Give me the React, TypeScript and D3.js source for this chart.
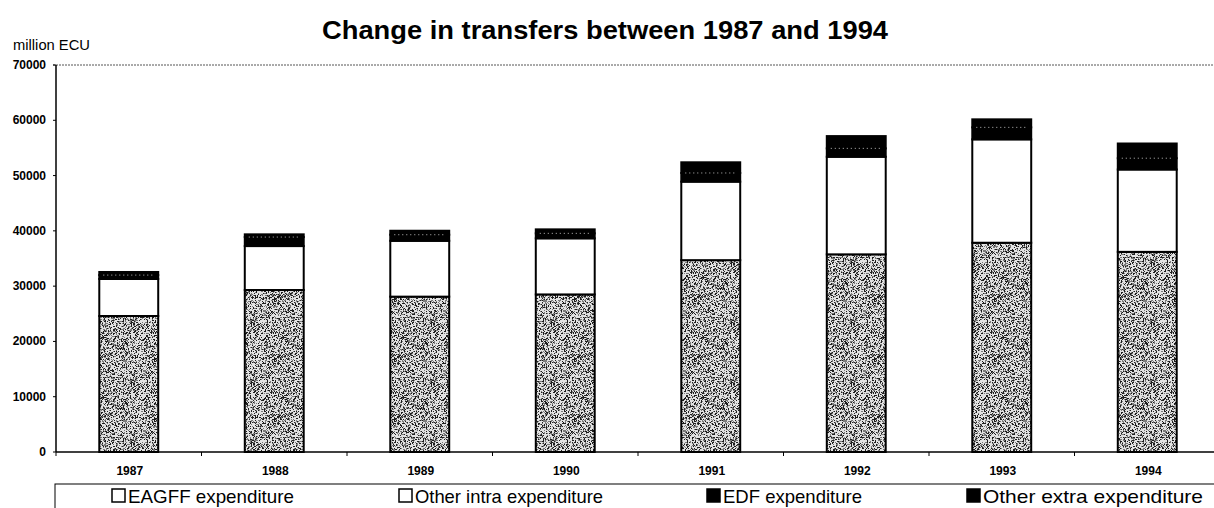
import React from "react";
import * as d3 from "d3";

const years = ["1987", "1988", "1989", "1990", "1991", "1992", "1993", "1994"];
const eagff = [24600, 29300, 28100, 28500, 34700, 35750, 37850, 36200];
const otherIntra = [6700, 7950, 10100, 10150, 14200, 17650, 18700, 14900];
const edf = [700, 1630, 1100, 900, 1570, 1520, 2170, 2040];
const otherExtra = [560, 490, 720, 720, 1930, 2220, 1450, 2660];
const yTicks = [0, 10000, 20000, 30000, 40000, 50000, 60000, 70000];
const keys = ["eagff", "intra", "edf", "extra"];
const legendLabels = ["EAGFF expenditure", "Other intra expenditure", "EDF expenditure", "Other extra expenditure"];

const W = 1214, H = 508;
const left = 56, right = 1220, top = 65, bottom = 452;
const FONT = "'Liberation Sans', Arial, sans-serif";

function hash(a: number, b: number) {
  let h = (a * 374761393 + b * 668265263) | 0;
  h = (h ^ (h >>> 13)) * 1274126177;
  h = h ^ (h >>> 16);
  return (h >>> 0) % 100;
}

export default function App() {
  const rows = years.map((y, i) => ({
    year: y, eagff: eagff[i], intra: otherIntra[i], edf: edf[i], extra: otherExtra[i],
  }));
  const x = d3.scaleBand().domain(years).range([left, right]).padding(0);
  const y = d3.scaleLinear().domain([0, 70000]).range([bottom, top]);
  const stack = d3.stack<any>().keys(keys)(rows);
  const bw = x.bandwidth() * 0.405;
  const off = (x.bandwidth() - bw) / 2;
  const fills: Record<string, string> = {
    eagff: "url(#stipple)", intra: "#ffffff", edf: "#000000", extra: "#000000",
  };
  const legendX = [112, 399, 707, 967];
  const legendTextW = [166, 188, 139, 220];
  const legendSquare = ["#ffffff", "#ffffff", "#000000", "#000000"];

  // deterministic stipple texture
  const PW = 60, PH = 60;
  const dots: [number, number, string][] = [];
  for (let r = 0; r < PH; r++) {
    for (let c = 0; c < PW; c++) {
      const h = hash(c, r);
      if (h < 22) dots.push([c, r, "#1e1e1e"]);
      else if (h < 45) dots.push([c, r, "#7a7a7a"]);
    }
  }

  return (
    <svg width={W} height={H} style={{ display: "block", position: "absolute", left: 0, top: 0 }}>
      <defs>
        <pattern id="stipple" width={PW} height={PH} patternUnits="userSpaceOnUse">
          <rect width={PW} height={PH} fill="#e2e2e2" />
          {dots.map(([a, b, c], i) => (
            <rect key={i} x={a} y={b} width={1} height={1} fill={c} />
          ))}
        </pattern>
      </defs>
      <rect width={W} height={H} fill="#fff" />
      <text x={605} y={39} textAnchor="middle" fontFamily={FONT} fontWeight="bold" fontSize={25}
        textLength={566} lengthAdjust="spacingAndGlyphs">
        Change in transfers between 1987 and 1994
      </text>
      <text x={13} y={50} fontFamily={FONT} fontSize={14} textLength={77} lengthAdjust="spacingAndGlyphs">million ECU</text>

      {/* top dotted border */}
      <line x1={53} x2={W} y1={top} y2={top} stroke="#555" strokeWidth={1} strokeDasharray="2,1" />

      {/* bars */}
      {stack.map((s) =>
        s.map((d, i) => (
          <rect
            key={s.key + i}
            x={(x(years[i]) as number) + off}
            y={y(d[1])}
            width={bw}
            height={y(d[0]) - y(d[1])}
            fill={fills[s.key]}
            stroke="#000"
            strokeWidth={2}
          />
        ))
      )}
      {/* dotted boundary between EDF and other extra */}
      {stack[3].map((d, i) => (
        <line
          key={"dl" + i}
          x1={(x(years[i]) as number) + off + 4}
          x2={(x(years[i]) as number) + off + bw - 4}
          y1={y(d[0])}
          y2={y(d[0])}
          stroke="#bbb"
          strokeWidth={1}
          strokeDasharray="1,3"
        />
      ))}

      {/* y axis */}
      <line x1={left} x2={left} y1={top} y2={bottom} stroke="#000" strokeWidth={1.5} />
      {yTicks.map((t) => (
        <g key={t}>
          <line x1={left - 3} x2={left} y1={y(t)} y2={y(t)} stroke="#000" />
          <text x={46} y={y(t) + 4} textAnchor="end" fontFamily={FONT} fontWeight="bold" fontSize={12}>
            {t}
          </text>
        </g>
      ))}

      {/* x axis */}
      <line x1={left} x2={W} y1={bottom} y2={bottom} stroke="#000" strokeWidth={1.5} />
      {years.map((yr) => (
        <g key={yr}>
          <line x1={x(yr) as number} x2={x(yr) as number} y1={bottom} y2={bottom + 4} stroke="#000" />
          <text
            x={(x(yr) as number) + x.bandwidth() / 2 + 1}
            y={475}
            textAnchor="middle"
            fontFamily={FONT}
            fontWeight="bold"
            fontSize={12}
          >
            {yr}
          </text>
        </g>
      ))}

      {/* legend box */}
      <rect x={left - 1} y={484} width={W} height={40} fill="none" stroke="#000" strokeWidth={1} />
      {legendLabels.map((lab, i) => (
        <g key={lab}>
          <rect x={legendX[i]} y={489} width={13} height={13} fill={legendSquare[i]} stroke="#000" strokeWidth={1.5} />
          <text x={legendX[i] + 16} y={503} fontFamily={FONT} fontSize={19}
            textLength={legendTextW[i]} lengthAdjust="spacingAndGlyphs">
            {lab}
          </text>
        </g>
      ))}
    </svg>
  );
}
